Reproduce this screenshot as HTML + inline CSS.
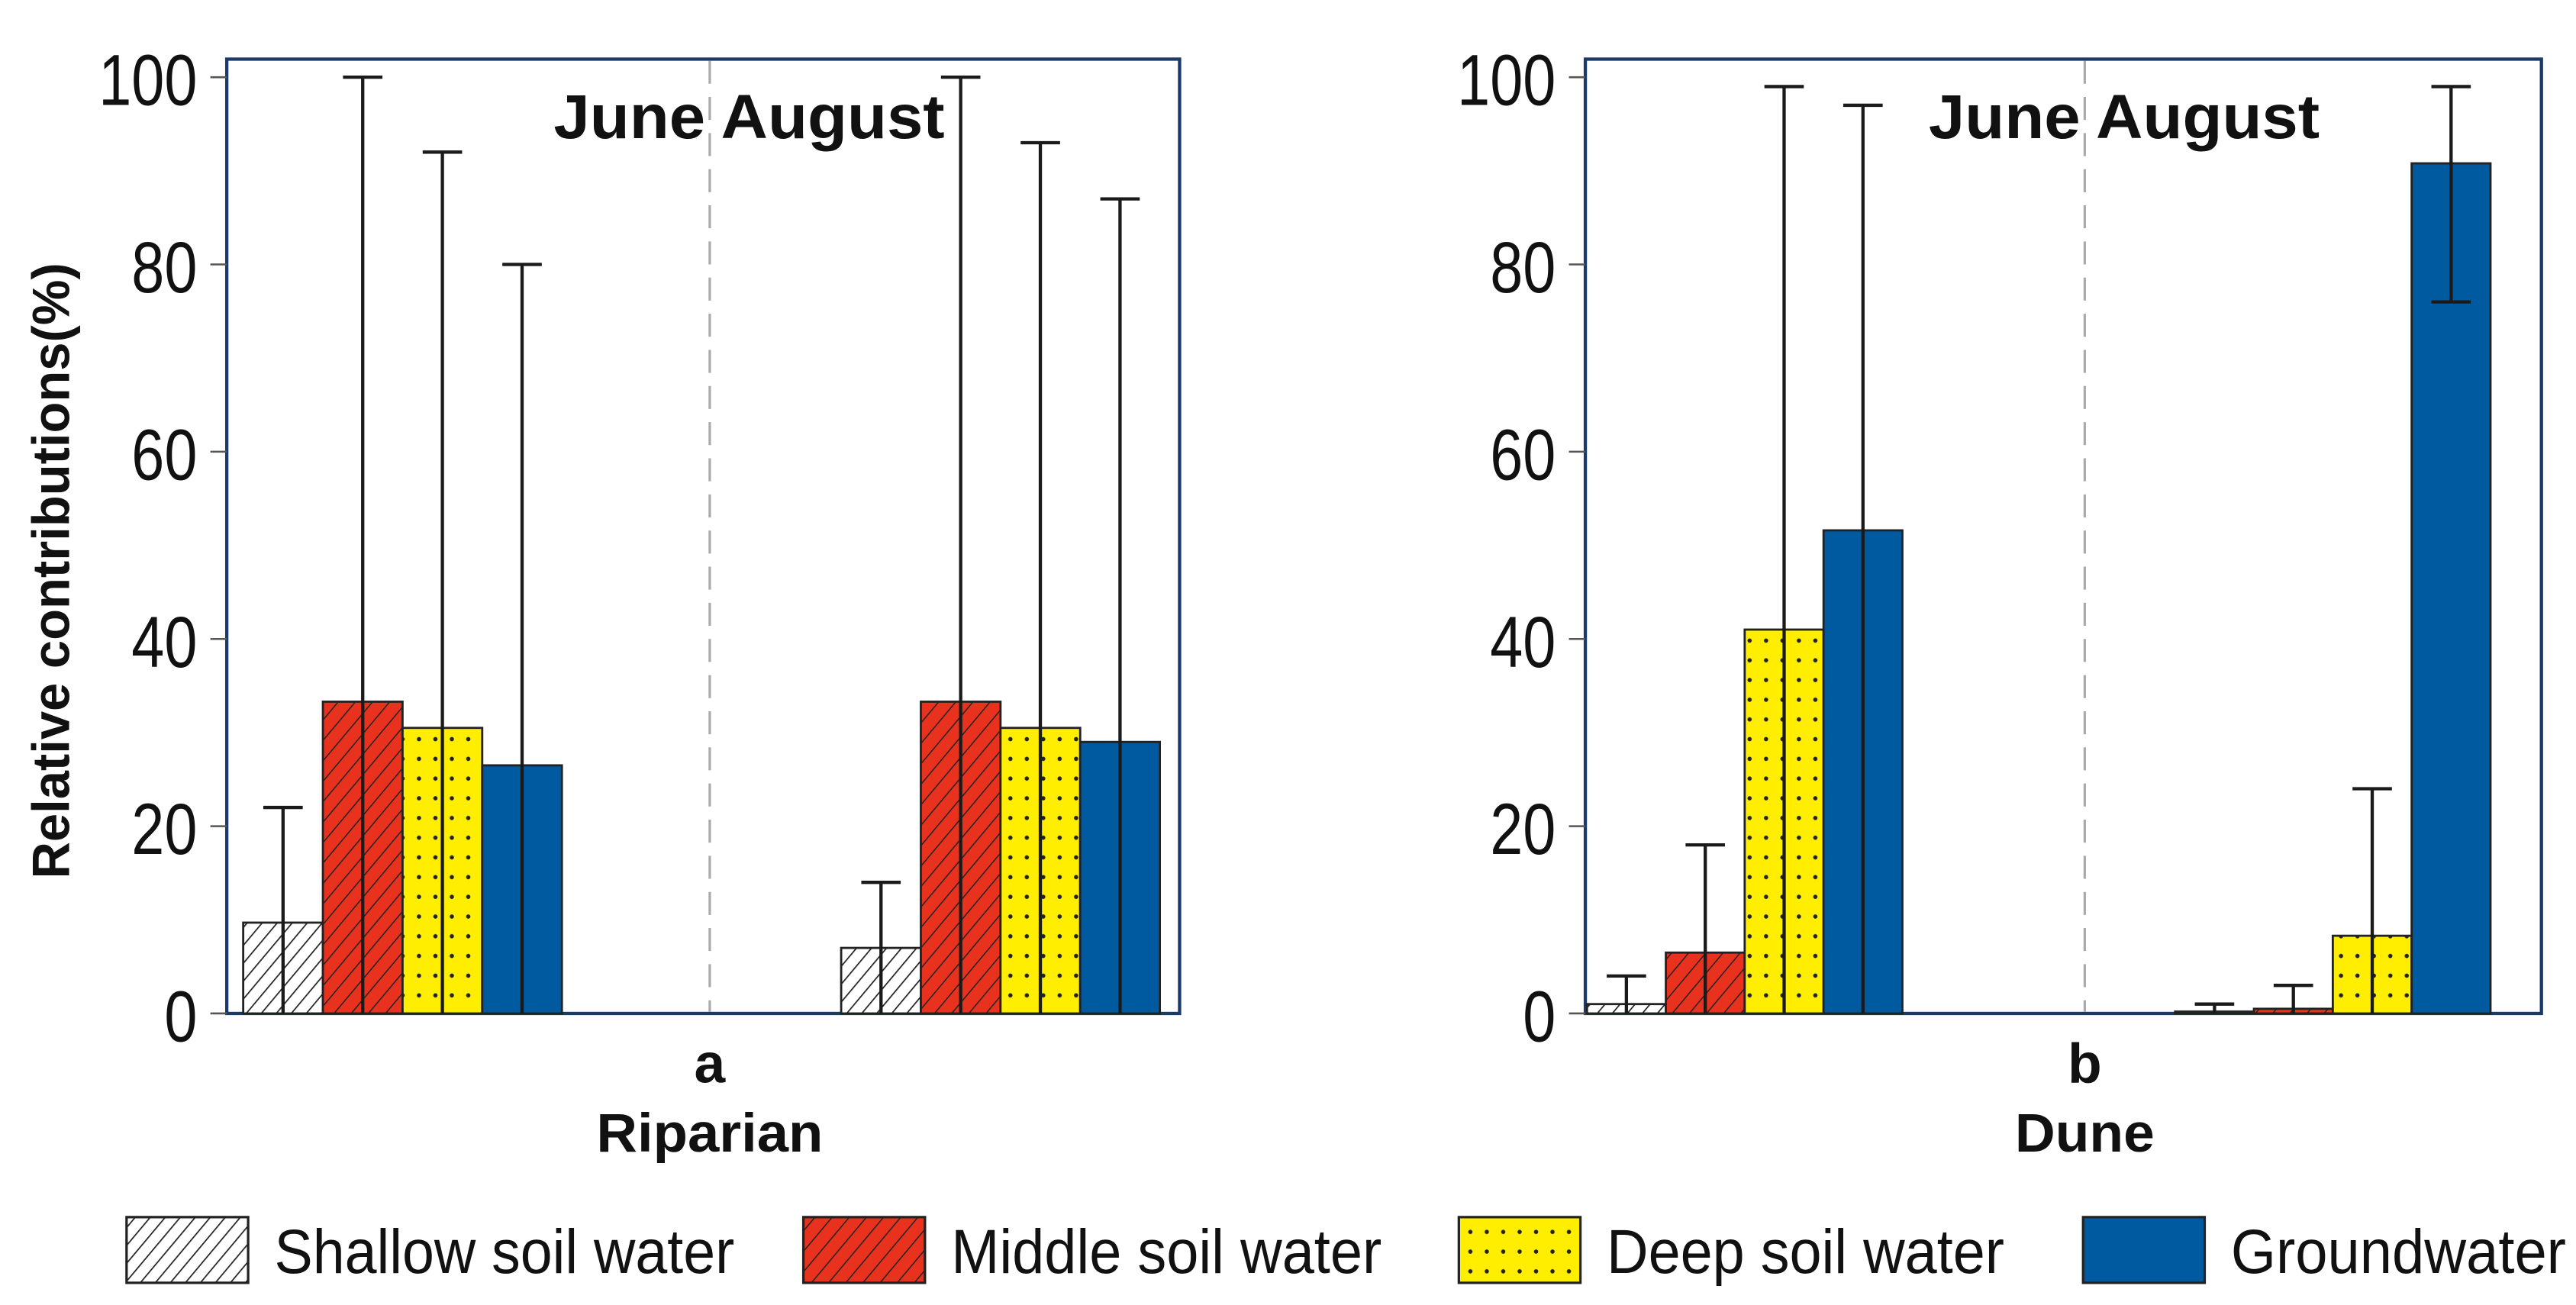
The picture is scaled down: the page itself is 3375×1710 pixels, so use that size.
<!DOCTYPE html>
<html><head><meta charset="utf-8"><style>html,body{margin:0;padding:0;background:#fff}svg{display:block}</style></head>
<body>
<svg id="chart" width="3375" height="1710" viewBox="0 0 1568 794.5" xmlns="http://www.w3.org/2000/svg" font-family="Liberation Sans, Arial, sans-serif">
<defs>
<pattern id="hatchW" patternUnits="userSpaceOnUse" width="7" height="7" patternTransform="rotate(40)"><rect width="7" height="7" fill="#fff"/><line x1="0" y1="0" x2="0" y2="7" stroke="#222" stroke-width="1.6"/></pattern>
<pattern id="hatchR" patternUnits="userSpaceOnUse" width="8" height="8" patternTransform="rotate(40)"><rect width="8" height="8" fill="#e8321e"/><line x1="0" y1="0" x2="0" y2="8" stroke="#222" stroke-width="1.4"/></pattern>
<pattern id="dotsY" patternUnits="userSpaceOnUse" width="10" height="12"><rect width="10" height="12" fill="#ffee00"/><circle cx="5" cy="6" r="1.3" fill="#222"/></pattern>
</defs>
<g id="root"></g>
</svg>
<script>
const seriesNames = ["Shallow soil water","Middle soil water","Deep soil water","Groundwater"];
const months = ["June","August"];
const ripValues = [[9.7,33.3,30.5,26.5],[7,33.3,30.5,29]];
const ripErrHigh = [[22,100,92,80],[14,100,93,87]];
const ripErrLow = [[0,0,0,0],[0,0,0,0]];
const duneValues = [[1,6.5,41,51.6],[0.2,0.5,8.3,90.8]];
const duneErrHigh = [[4,18,99,97],[1,3,24,99]];
const duneErrLow = [[0,0,0,0],[0,0,0,76]];
const yTicks = [0,20,40,60,80,100];
const fills = ["url(#hatchW)","url(#hatchR)","url(#dotsY)","#005aa0"];
const NS="http://www.w3.org/2000/svg";
const root=document.getElementById('root');
function mk(tag,attrs,parent){const e=document.createElementNS(NS,tag);for(const k in attrs)e.setAttribute(k,attrs[k]);(parent||root).appendChild(e);return e;}
function panel(p){
  const g=mk('g',{});
  
  
  const y=v=>617-(v/100)*570;
  const f=mk('rect',{x:p.x0,y:36,width:p.x1-p.x0,height:581,fill:'none',stroke:'#1a3a6a','stroke-width':2},g);
  
  
  yTicks.forEach(t=>{
    const l=mk('line',{x1:p.x0-10,x2:p.x0,y1:y(t),y2:y(t),stroke:'#555','stroke-width':1.2},g);
    
    
    const s=String(t);
    const tx=mk('text',{x:p.x0-18-s.length*20,y:y(t)+17,'font-size':44,fill:'#111',textLength:s.length*20,lengthAdjust:'spacingAndGlyphs'},g);
    tx.textContent=s;
    
    
  });
  const d=mk('line',{x1:p.div,x2:p.div,y1:37,y2:616,stroke:'#aaa','stroke-width':1.5,'stroke-dasharray':'14,8'},g);
  
  
  months.forEach((m,mi)=>{
    p.values[mi].forEach((v,si)=>{
      const bx=p.starts[mi]+si*p.bw;
      const r=mk('rect',{x:bx,y:y(v),width:p.bw,height:y(0)-y(v),fill:fills[si],stroke:'#222','stroke-width':1.3},g);
      
      
      const cx=bx+p.bw/2;
      const lo=p.lo[mi][si],hi=p.hi[mi][si];
      const e=mk('line',{x1:cx,x2:cx,y1:y(lo),y2:y(hi),stroke:'#1a1a1a','stroke-width':2},g);
      
      
      const c=mk('line',{x1:cx-12,x2:cx+12,y1:y(hi),y2:y(hi),stroke:'#1a1a1a','stroke-width':2},g);
      
      
      if(lo>0){const c2=mk('line',{x1:cx-12,x2:cx+12,y1:y(lo),y2:y(lo),stroke:'#1a1a1a','stroke-width':2},g);
      
      }
    });
  });
  const ja=mk('text',{x:p.div-95,y:84,'font-size':38,'font-weight':'bold',textLength:238,lengthAdjust:'spacingAndGlyphs',fill:'#111'},g);
  ja.textContent='June August';
  
  
  const lt=mk('text',{x:p.div,y:659,'font-size':34,'font-weight':'bold','text-anchor':'middle',fill:'#111'},g);
  lt.textContent=p.letter;
  
  
  const sw=p.siteW;
  const st=mk('text',{x:p.div-sw/2,y:701,'font-size':33,'font-weight':'bold',textLength:sw,lengthAdjust:'spacingAndGlyphs',fill:'#111'},g);
  st.textContent=p.site;
  
  
}
panel({name:'riparian-panel',x0:138,x1:718,div:432,starts:[148,512],bw:48.5,values:ripValues,hi:ripErrHigh,lo:ripErrLow,letter:'a',site:'Riparian',siteW:138});
panel({name:'dune-panel',x0:965,x1:1547,div:1269,starts:[966,1324],bw:48,values:duneValues,hi:duneErrHigh,lo:duneErrLow,letter:'b',site:'Dune',siteW:85});
const yt=mk('text',{x:-535,y:0,'font-size':32,'font-weight':'bold',textLength:375,lengthAdjust:'spacingAndGlyphs',transform:'translate(42,0) rotate(-90)',fill:'#111','xml:space':'preserve'});
yt.textContent='Relative  contributions(%)';


const legX=[77,489,888,1268];
const legTextW=[280,262,242,204];
seriesNames.forEach((n,i)=>{
  const g=mk('g',{});
  
  
  const r=mk('rect',{x:legX[i],y:741,width:74,height:40,fill:fills[i],stroke:'#222','stroke-width':1.5},g);
  
  
  const t=mk('text',{x:legX[i]+90,y:775,'font-size':38,textLength:legTextW[i],lengthAdjust:'spacingAndGlyphs',fill:'#111'},g);
  t.textContent=n;
  
  
});
</script>
</body></html>
